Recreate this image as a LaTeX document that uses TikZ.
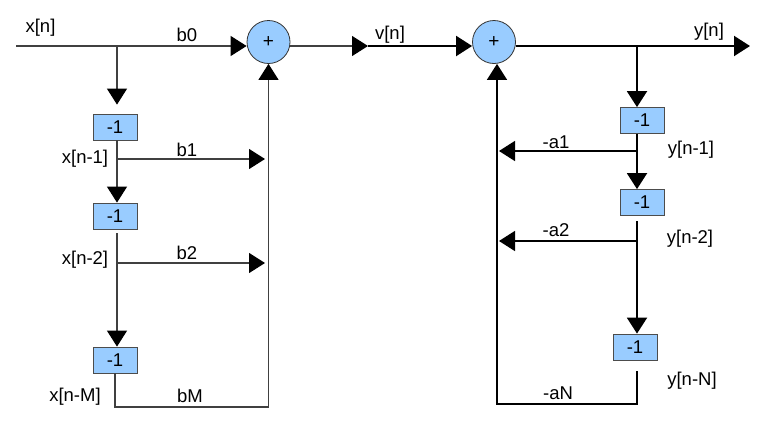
\documentclass[tikz,border=0pt]{standalone}
\usepackage{fontspec}
\setmainfont{Liberation Sans}
\usetikzlibrary{arrows.meta}
\definecolor{boxblue}{HTML}{99CCFF}
\begin{document}
\begin{tikzpicture}[x=1pt,y=-1pt,
  lbl/.style={font=\fontsize{18.5}{20}\selectfont, inner sep=0pt},
  sumnode/.style={circle, draw=black!80, fill=boxblue, minimum size=43pt, inner sep=0pt, font=\fontsize{19}{20}\selectfont, line width=0.8pt},
  delay/.style={rectangle, draw=black!70, fill=boxblue, minimum width=44pt, minimum height=26pt, inner sep=0pt, font=\fontsize{18.5}{20}\selectfont, line width=0.8pt},
  thinwire/.style={draw=black!75, line width=1.2pt},
  thickwire/.style={draw=black, line width=2pt},
  awire/.style={draw=black, line width=1.5pt},
  tip/.style={-{Triangle[length=16pt,width=20pt,black]}},
]
\useasboundingbox (0,0) rectangle (771,426);

% nodes
\node[sumnode] (s1) at (268.5,42) {+};
\node[sumnode] (s2) at (494,42) {+};
\node[delay] (d1) at (115,127) {-1};
\node[delay] (d2) at (115,216) {-1};
\node[delay] (d3) at (115,360) {-1};
\node[delay] (e1) at (642,120.5) {-1};
\node[delay] (e2) at (642,202.5) {-1};
\node[delay] (e3) at (635,347) {-1};

% coordinates
\coordinate (in) at (16,46);
\coordinate (bx) at (117,46);
\coordinate (x1) at (117,159);
\coordinate (x2) at (117,263);
\coordinate (t1) at (265,159);
\coordinate (t2) at (265,263);
\coordinate (g2) at (117,233);
\coordinate (xm) at (115,407);
\coordinate (vm) at (368,46);
\coordinate (out) at (750,46);
\coordinate (by) at (637,46);
\coordinate (y1) at (637,151);
\coordinate (y2) at (637,241);
\coordinate (f1) at (499,151);
\coordinate (f2) at (499,241);
\coordinate (g3) at (637,221);
\coordinate (g4) at (637,371);
\coordinate (yn) at (637,404);
\coordinate (fb) at (497,404);

% left (FIR) part
\draw[thinwire, tip] (in) -- (in -| s1.west);
\draw[thinwire, tip, shorten >=9pt] (bx) -- (bx |- d1.north);
\draw[thinwire, tip] (d1.south -| bx) -- (bx |- d2.north);
\draw[thinwire, tip] (x1) -- (t1);
\draw[thinwire, tip] (g2) -- (bx |- d3.north);
\draw[thinwire, tip] (x2) -- (t2);
\draw[thinwire, tip] (d3.south) -- (xm) -| (s1.south);

% middle
\draw[thinwire, tip] (s1.east |- vm) -- (vm);
\draw[thickwire, tip] (vm) -- (vm -| s2.west);

% right (IIR) part
\draw[thickwire, tip] (s2.east |- out) -- (out);
\draw[thickwire, tip] (by) -- (by |- e1.north);
\draw[thickwire, tip] (e1.south -| by) -- (by |- e2.north);
\draw[awire, tip] (y1) -- (f1);
\draw[thickwire, tip] (g3) -- (by |- e3.north);
\draw[awire, tip] (y2) -- (f2);
\draw[awire, tip] (g4) -- (yn) -- (fb) -- (fb |- s2.south);

% labels
\node[lbl] (lxn) at (40.5,28) {x[n]};
\node[lbl] (lb0) at (187,34.5) {b0};
\node[lbl] (lx1) at (85,159) {x[n-1]};
\node[lbl] (lb1) at (187,150) {b1};
\node[lbl] (lx2) at (85,260) {x[n-2]};
\node[lbl] (lb2) at (187,252.5) {b2};
\node[lbl] (lxm) at (75,397) {x[n-M]};
\node[lbl] (lbm) at (190,396) {bM};
\node[lbl] (lvn) at (390,35) {v[n]};
\node[lbl] (lyn) at (709,32) {y[n]};
\node[lbl] (la1) at (556,142) {-a1};
\node[lbl] (ly1) at (691,150) {y[n-1]};
\node[lbl] (la2) at (556,230) {-a2};
\node[lbl] (ly2) at (690,239) {y[n-2]};
\node[lbl] (lan) at (558,393) {-aN};
\node[lbl] (lyN) at (692,381) {y[n-N]};
\end{tikzpicture}
\end{document}
